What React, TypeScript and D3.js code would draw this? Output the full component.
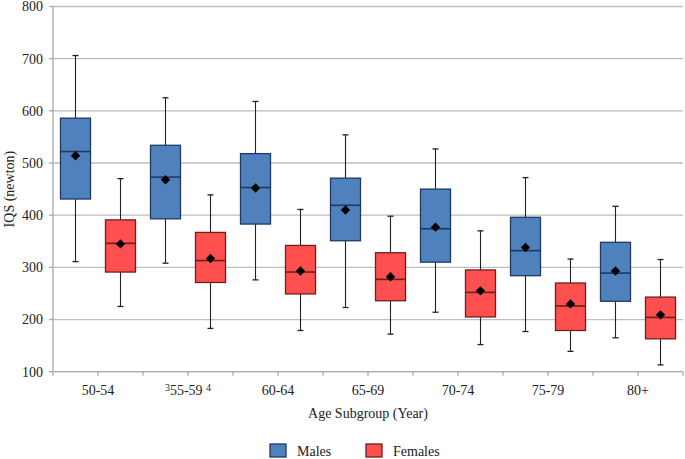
import React from 'react';
import * as d3 from 'd3';

// age groups and the two series, values in newton
const ageGroups = ['50-54', '55-59', '60-64', '65-69', '70-74', '75-79', '80+'];
const genders = ['Males', 'Females'];

const maleMin = [311, 308, 276, 223, 214, 177, 165];
const maleQ1 = [431, 393, 383, 351, 310, 284, 235];
const maleMedian = [522, 473, 453, 419, 374, 332, 289];
const maleQ3 = [586, 534, 518, 471, 450, 396, 348];
const maleMax = [706, 625, 618, 554, 527, 472, 417];
const maleMean = [514, 468, 452, 410, 377, 338, 293];

const femaleMin = [225, 183, 179, 172, 152, 139, 113];
const femaleQ1 = [291, 271, 249, 236, 205, 179, 163];
const femaleMedian = [346, 313, 291, 277, 252, 226, 204];
const femaleQ3 = [391, 367, 342, 328, 295, 270, 243];
const femaleMax = [470, 439, 411, 398, 370, 316, 315];
const femaleMean = [345, 317, 293, 282, 255, 230, 209];

const yTicks = [100, 200, 300, 400, 500, 600, 700, 800];

const colors = {
  Males: { fill: '#4F81BD', stroke: '#1F3864' },
  Females: { fill: '#FF4F4F', stroke: '#6E1F1F' },
};

const font = 'Liberation Serif, DejaVu Serif, Times, serif';
const textStyle = { fontFamily: font, fontSize: 14, fill: '#222' };

function buildBoxes() {
  const rows: any[] = [];
  ageGroups.forEach((age, i) => {
    rows.push({
      age, gender: 'Males',
      min: maleMin[i], q1: maleQ1[i], median: maleMedian[i], q3: maleQ3[i], max: maleMax[i], mean: maleMean[i],
    });
    rows.push({
      age, gender: 'Females',
      min: femaleMin[i], q1: femaleQ1[i], median: femaleMedian[i], q3: femaleQ3[i], max: femaleMax[i], mean: femaleMean[i],
    });
  });
  return rows;
}

export default function App() {
  const width = 685;
  const height = 459;
  const left = 53;
  const right = 683;
  const top = 6.5;
  const bottom = 371.7;

  const x = d3.scaleBand().domain(ageGroups).range([left, right]).padding(0);
  const xInner = d3.scaleBand().domain(genders).range([0, x.bandwidth()]).padding(0);
  const y = d3.scaleLinear().domain([100, 800]).range([bottom, top]);

  const boxW = xInner.bandwidth() * 0.667;
  const capW = 6;
  const boxes = buildBoxes();

  // tick marks at every gender slot boundary
  const slotEdges: number[] = [];
  ageGroups.forEach((age) => {
    genders.forEach((g) => slotEdges.push((x(age) as number) + (xInner(g) as number)));
  });
  slotEdges.push(right);

  // mean marker: a square turned 45 degrees
  const diamond = d3.symbol().type(d3.symbolSquare).size(44)();

  return (
    <svg width={width} height={height} style={{ position: 'absolute', left: 0, top: 0, background: '#fff' }}>
      {/* gridlines */}
      {yTicks.map((t) => (
        <line key={`g${t}`} x1={left} x2={right} y1={y(t)} y2={y(t)} stroke="#BEBEBE" strokeWidth={1.3} />
      ))}
      {/* axes */}
      <line x1={left} x2={left} y1={top} y2={bottom} stroke="#AAAAAA" strokeWidth={1.3} />
      <line x1={left} x2={right} y1={bottom} y2={bottom} stroke="#AAAAAA" strokeWidth={1.3} />
      {yTicks.map((t) => (
        <g key={`yt${t}`}>
          <line x1={left - 4} x2={left} y1={y(t)} y2={y(t)} stroke="#AAAAAA" strokeWidth={1.3} />
          <text x={left - 10} y={y(t)} dy="0.35em" textAnchor="end" style={textStyle}>
            {t}
          </text>
        </g>
      ))}
      {slotEdges.map((sx, i) => (
        <line key={`xt${i}`} x1={sx} x2={sx} y1={bottom} y2={bottom + 4} stroke="#AAAAAA" strokeWidth={1.3} />
      ))}

      {/* boxes */}
      {boxes.map((d, i) => {
        const cx = (x(d.age) as number) + (xInner(d.gender) as number) + xInner.bandwidth() / 2;
        const c = colors[d.gender as 'Males' | 'Females'];
        return (
          <g key={`b${i}`}>
            <line x1={cx} x2={cx} y1={y(d.max)} y2={y(d.q3)} stroke="#222" strokeWidth={1.1} />
            <line x1={cx} x2={cx} y1={y(d.q1)} y2={y(d.min)} stroke="#222" strokeWidth={1.1} />
            <line x1={cx - capW / 2} x2={cx + capW / 2} y1={y(d.max)} y2={y(d.max)} stroke="#222" strokeWidth={1.3} />
            <line x1={cx - capW / 2} x2={cx + capW / 2} y1={y(d.min)} y2={y(d.min)} stroke="#222" strokeWidth={1.3} />
            <rect
              x={cx - boxW / 2}
              y={y(d.q3)}
              width={boxW}
              height={y(d.q1) - y(d.q3)}
              fill={c.fill}
              stroke={c.stroke}
              strokeWidth={1.3}
            />
            <line x1={cx - boxW / 2} x2={cx + boxW / 2} y1={y(d.median)} y2={y(d.median)} stroke={c.stroke} strokeWidth={1.6} />
            <path d={diamond as string} transform={`translate(${cx},${y(d.mean)}) rotate(45)`} fill="#000" />
          </g>
        );
      })}

      {/* category labels */}
      {ageGroups.map((age) => {
        const cx = (x(age) as number) + x.bandwidth() / 2;
        if (age === '55-59') {
          return (
            <text key={age} x={cx} y={395} textAnchor="middle" style={textStyle}>
              <tspan fontSize={10} dy={-4}>3</tspan>
              <tspan dy={4}>55-59 </tspan>
              <tspan fontSize={10} dy={-4}>4</tspan>
            </text>
          );
        }
        return (
          <text key={age} x={cx} y={395} textAnchor="middle" style={textStyle}>
            {age}
          </text>
        );
      })}

      {/* axis titles */}
      <text x={(left + right) / 2} y={418} textAnchor="middle" style={textStyle}>
        Age Subgroup (Year)
      </text>
      <text transform={`translate(14,${(top + bottom) / 2}) rotate(-90)`} textAnchor="middle" style={textStyle}>
        IQS (newton)
      </text>

      {/* legend */}
      {genders.map((g, i) => {
        const lx = 270 + i * 96;
        const c = colors[g as 'Males' | 'Females'];
        return (
          <g key={`l${g}`}>
            <rect x={lx} y={444} width={16} height={13} fill={c.fill} stroke={c.stroke} strokeWidth={1.3} />
            <text x={lx + 27} y={456} style={textStyle}>
              {g}
            </text>
          </g>
        );
      })}
    </svg>
  );
}
